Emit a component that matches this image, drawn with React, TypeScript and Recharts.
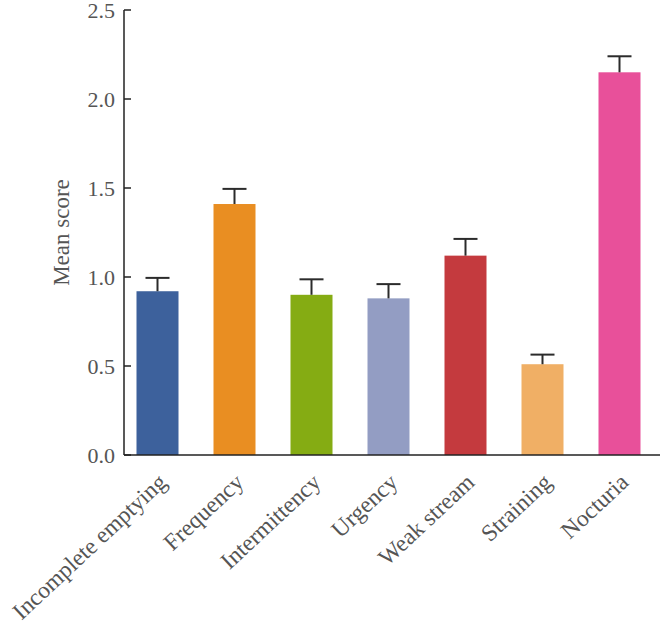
import React from "react";
import { BarChart, Bar, Cell, XAxis, YAxis, Label } from "recharts";

const categories = [
  "Incomplete emptying",
  "Frequency",
  "Intermittency",
  "Urgency",
  "Weak stream",
  "Straining",
  "Nocturia"
];
const meanScores = [0.92, 1.41, 0.9, 0.88, 1.12, 0.51, 2.15];
const stdErrors = [0.075, 0.085, 0.087, 0.08, 0.094, 0.054, 0.09];
const barColors = [
  "#3D619C",
  "#E98E22",
  "#85AC13",
  "#939DC3",
  "#C43A3E",
  "#F0AF65",
  "#E8509A"
];
const yTicks = [0, 0.5, 1.0, 1.5, 2.0, 2.5];

const FONT = "'Liberation Serif', 'DejaVu Serif', serif";
const TEXT = "#555";
const AXIS = "#222";

const rows = categories.map((name, i) => ({
  name,
  mean: meanScores[i],
  err: stdErrors[i]
}));

// bar + upper-only error whisker; whisker length scaled from the bar's own px/value
const BarWithError = (props: any) => {
  const { x, y, width, height, fill, payload } = props;
  const pxPerUnit = payload.mean ? height / payload.mean : 0;
  const top = y - payload.err * pxPerUnit;
  const cx = x + width / 2;
  return (
    <g>
      <rect x={x} y={y} width={width} height={height} fill={fill} />
      <line x1={cx} y1={y} x2={cx} y2={top} stroke="#2b2b2b" strokeWidth={2} />
      <line x1={cx - 12} y1={top} x2={cx + 12} y2={top} stroke="#2b2b2b" strokeWidth={2} />
    </g>
  );
};

const XTick = (props: any) => {
  const { x, y, payload } = props;
  const tx = x + 11;
  const ty = y + 21;
  return (
    <text
      x={tx}
      y={ty}
      transform={`rotate(-43, ${tx}, ${ty})`}
      textAnchor="end"
      fontFamily={FONT}
      fontSize={23.5}
      fill={TEXT}
    >
      {payload.value}
    </text>
  );
};

const App: React.FC = () => {
  return (
    <div style={{ position: "absolute", left: 0, top: 0 }}>
      <BarChart
        width={664}
        height={623}
        data={rows}
        margin={{ top: 10, right: 4, bottom: 138, left: 64 }}
        barSize={42}
      >
        <XAxis
          dataKey="name"
          interval={0}
          tickLine={false}
          axisLine={{ stroke: AXIS, strokeWidth: 1.5 }}
          padding={{ left: -5.5, right: 2.5 }}
          height={30}
          tick={<XTick />}
        />
        <YAxis
          width={60}
          domain={[0, 2.5]}
          ticks={yTicks}
          interval={0}
          tickFormatter={(v: number) => v.toFixed(1)}
          tickSize={-7}
          tickMargin={16}
          tickLine={{ stroke: AXIS, strokeWidth: 1.5 }}
          axisLine={{ stroke: AXIS, strokeWidth: 1.5 }}
          tick={{ fontFamily: FONT, fontSize: 22, fill: TEXT }}
        >
          <Label
            content={(p: any) => {
              const vb = p.viewBox;
              const cx = 61;
              const cy = vb.y + vb.height / 2;
              return (
                <text
                  x={cx}
                  y={cy}
                  transform={`rotate(-90, ${cx}, ${cy})`}
                  textAnchor="middle"
                  dominantBaseline="central"
                  fontFamily={FONT}
                  fontSize={23}
                  fill={TEXT}
                >
                  Mean score
                </text>
              );
            }}
          />
        </YAxis>
        <Bar dataKey="mean" isAnimationActive={false} shape={<BarWithError />}>
          {rows.map((r, i) => (
            <Cell key={r.name} fill={barColors[i]} />
          ))}
        </Bar>
      </BarChart>
    </div>
  );
};

export default App;
